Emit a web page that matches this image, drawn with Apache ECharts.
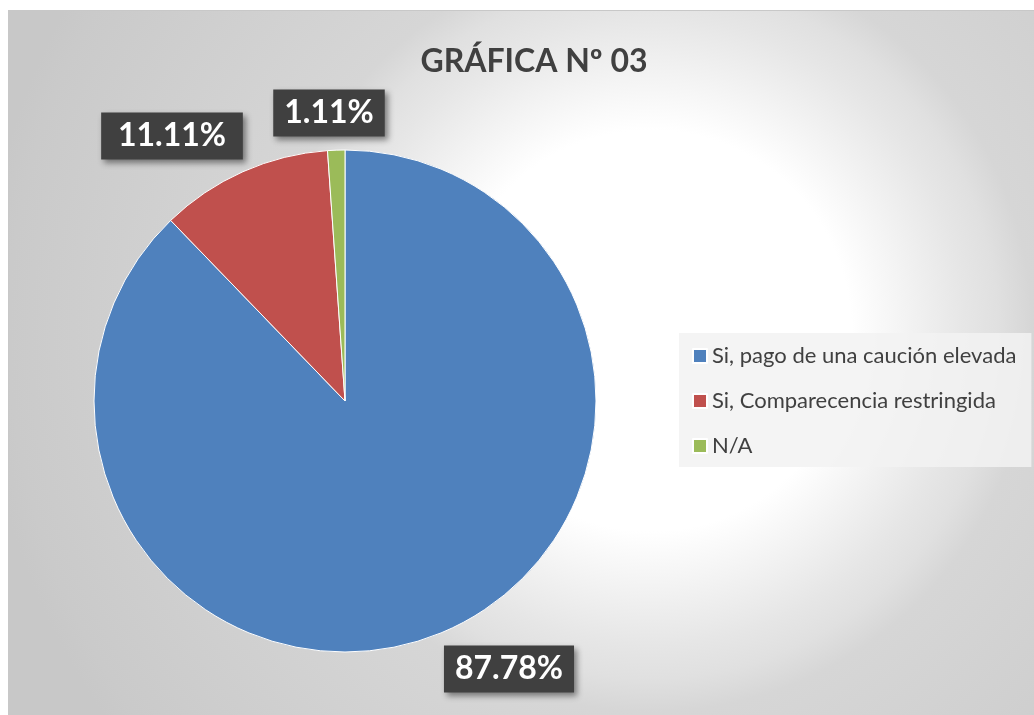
<!DOCTYPE html>
<html>
<head>
<meta charset="utf-8">
<script src="https://cdn.jsdelivr.net/npm/echarts@6/dist/echarts.min.js"></script>
<style>
  html, body { margin: 0; padding: 0; background: #fff; }
  #chart { position: absolute; left: 8px; top: 10px; width: 1026px; height: 705px; box-sizing: border-box; border-left: 1px solid #c8c8c8; border-top: 1px solid #c8c8c8; }
</style>
</head>
<body>
<div id="chart"></div>
<script>
const categories = ['Si, pago de una caución elevada', 'Si, Comparecencia restringida', 'N/A'];
const values = [87.78, 11.11, 1.11];
const colors = ['#4f81bd', '#c0504d', '#9bbb59'];
const title = 'GRÁFICA Nº 03';

// label box centres, like Excel's best fit placement
const labelSpots = [[500, 658], [163, 125], [320, 102]];

const chart = echarts.init(document.getElementById('chart'));

chart.setOption({
  backgroundColor: new echarts.graphic.RadialGradient(0.626, 0.454, 0.95, [
    { offset: 0, color: '#ffffff' },
    { offset: 0.3, color: '#ffffff' },
    { offset: 0.47, color: '#e6e6e6' },
    { offset: 0.52, color: '#e0e0e0' },
    { offset: 0.57, color: '#d6d6d6' },
    { offset: 0.96, color: '#cacaca' },
    { offset: 1, color: '#c8c8c8' }
  ]),
  textStyle: { fontFamily: 'Lato' },
  title: {
    text: title,
    left: 520,
    textAlign: 'center',
    top: 30,
    textStyle: { fontSize: 32, fontWeight: 'bold', color: '#404040', fontFamily: 'Lato' }
  },
  legend: {
    orient: 'vertical',
    left: 670,
    top: 322,
    padding: [12, 15, 10, 13],
    backgroundColor: 'rgba(242,242,242,0.85)',
    itemWidth: 14,
    itemHeight: 14,
    itemGap: 23,
    icon: 'rect',
    textStyle: { fontSize: 22, color: '#404040', fontFamily: 'Lato' },
    data: categories
  },
  series: [{
    type: 'pie',
    center: [336, 390],
    radius: [0, 251],
    startAngle: 90,
    clockwise: true,
    silent: true,
    itemStyle: { borderColor: '#fff', borderWidth: 1 },
    label: {
      show: true,
      position: 'outside',
      formatter: (p) => p.value.toFixed(2) + '%',
      color: '#fff',
      fontSize: 32,
      fontWeight: 'bold',
      fontFamily: 'Lato',
      backgroundColor: '#404040',
      padding: [8, 11, 7, 11],
      shadowColor: 'rgba(0,0,0,0.45)',
      shadowBlur: 6,
      shadowOffsetX: 3,
      shadowOffsetY: 3
    },
    labelLine: { show: false },
    labelLayout: (params) => ({
      x: labelSpots[params.dataIndex][0],
      y: labelSpots[params.dataIndex][1],
      align: 'center',
      verticalAlign: 'middle'
    }),
    data: categories.map((name, i) => ({ name, value: values[i], itemStyle: { color: colors[i] } }))
  }]
});
</script>
</body>
</html>
